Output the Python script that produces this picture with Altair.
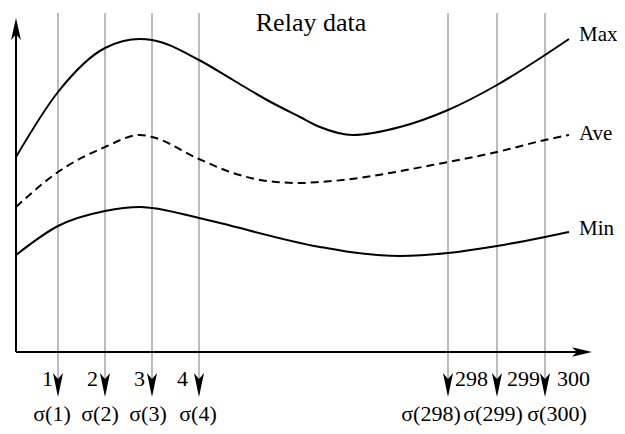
import altair as alt
import pandas as pd

# ---- data (horizontal position, vertical value; origin at the axes corner) ----
title_text = "Relay data"

max_x = [0, 42, 89, 124, 136, 183, 217, 251, 284, 304, 337, 384, 432, 481, 529, 553]
max_y = [195, 260, 304, 313, 312, 292, 272, 252, 235, 225, 217, 225, 242, 267, 297, 313]

ave_x = [0, 42, 89, 124, 136, 183, 217, 251, 284, 304, 432, 481, 529, 553]
ave_y = [145, 180, 205, 217, 215, 193, 179, 171, 169, 170, 190, 200, 212, 217]

min_x = [0, 42, 89, 124, 136, 183, 304, 334, 384, 432, 481, 529, 553]
min_y = [97, 126, 141, 145, 144, 134, 105, 100, 96, 99, 106, 115, 120]

series_names = ["Max", "Ave", "Min"]
series_label_y = [311, 212, 117]
series_label_x = 563

marker_x = [42, 89, 136, 183, 432, 481, 529]
marker_num = ["1", "2", "3", "4", "298", "299", "300"]
num_label_x = [37, 82, 129, 172, 439, 491, 541]
sigma_label_x = [36, 84, 132, 182, 415, 477, 541]
sigma_labels = ["σ(" + n + ")" for n in marker_num]

marker_top = 339
marker_bottom = -33
num_label_y = -34
sigma_label_y = -69

axis_x_end = 572
axis_y_end = 318

FONT = "Liberation Serif"

xs = alt.Scale(domain=[-8, 601], nice=False, zero=False)
ys = alt.Scale(domain=[-74, 344], nice=False, zero=False)


def X(f="x"):
    return alt.X(f + ":Q", scale=xs, axis=None)


def Y(f="y"):
    return alt.Y(f + ":Q", scale=ys, axis=None)


markers = pd.DataFrame({"x": marker_x, "top": [marker_top] * 7, "bot": [marker_bottom] * 7})

vlines = alt.Chart(markers).mark_rule(color="#7a7a7a", strokeWidth=1).encode(
    x=X(), y=Y("top"), y2="bot:Q"
)

down_arrow = "M0,1 L-0.42,-1 L0,-0.5 L0.42,-1 Z"
vheads = alt.Chart(markers).mark_point(
    shape=down_arrow, size=576, filled=True, color="black", opacity=1, strokeWidth=0
).encode(x=X(), y=Y("bot"))

df_max = pd.DataFrame({"x": max_x, "y": max_y})
df_ave = pd.DataFrame({"x": ave_x, "y": ave_y})
df_min = pd.DataFrame({"x": min_x, "y": min_y})

l_max = alt.Chart(df_max).mark_line(color="black", strokeWidth=2, interpolate="monotone").encode(x=X(), y=Y())
l_ave = alt.Chart(df_ave).mark_line(
    color="black", strokeWidth=2, interpolate="monotone", strokeDash=[8, 5]
).encode(x=X(), y=Y())
l_min = alt.Chart(df_min).mark_line(color="black", strokeWidth=2, interpolate="monotone").encode(x=X(), y=Y())

# axes
xaxis = alt.Chart(pd.DataFrame({"x": [0], "x2": [axis_x_end], "y": [0]})).mark_rule(
    color="black", strokeWidth=2
).encode(x=X(), x2="x2:Q", y=Y())
yaxis = alt.Chart(pd.DataFrame({"x": [0], "y": [0], "y2": [axis_y_end]})).mark_rule(
    color="black", strokeWidth=2
).encode(x=X(), y=Y(), y2="y2:Q")

right_arrow = "M1,0 L-1,-0.48 L-0.5,0 L-1,0.48 Z"
up_arrow = "M0,-1 L-0.45,1 L0,0.5 L0.45,1 Z"
xhead = alt.Chart(pd.DataFrame({"x": [566], "y": [0]})).mark_point(
    shape=right_arrow, size=400, filled=True, color="black", opacity=1, strokeWidth=0
).encode(x=X(), y=Y())
yhead = alt.Chart(pd.DataFrame({"x": [0], "y": [323]})).mark_point(
    shape=up_arrow, size=484, filled=True, color="black", opacity=1, strokeWidth=0
).encode(x=X(), y=Y())

# texts
title = alt.Chart(pd.DataFrame({"x": [295], "y": [321], "t": [title_text]})).mark_text(
    font=FONT, fontSize=26, align="center", baseline="alphabetic", color="black"
).encode(x=X(), y=Y(), text="t:N")

series_lab = alt.Chart(
    pd.DataFrame({"x": [series_label_x] * 3, "y": series_label_y, "t": series_names})
).mark_text(font=FONT, fontSize=21, align="left", baseline="alphabetic", color="black").encode(
    x=X(), y=Y(), text="t:N"
)

nums_left = alt.Chart(
    pd.DataFrame({"x": num_label_x[:4], "y": [num_label_y] * 4, "t": marker_num[:4]})
).mark_text(font=FONT, fontSize=22, align="right", baseline="alphabetic", color="black").encode(
    x=X(), y=Y(), text="t:N"
)
nums_right = alt.Chart(
    pd.DataFrame({"x": num_label_x[4:], "y": [num_label_y] * 3, "t": marker_num[4:]})
).mark_text(font=FONT, fontSize=22, align="left", baseline="alphabetic", color="black").encode(
    x=X(), y=Y(), text="t:N"
)
sigmas = alt.Chart(
    pd.DataFrame({"x": sigma_label_x, "y": [sigma_label_y] * 7, "t": sigma_labels})
).mark_text(font=FONT, fontSize=22, align="center", baseline="alphabetic", color="black").encode(
    x=X(), y=Y(), text="t:N"
)

chart = alt.layer(
    vlines, l_max, l_ave, l_min, xaxis, yaxis, vheads, xhead, yhead,
    title, series_lab, nums_left, nums_right, sigmas
).properties(
    width=609, height=418, autosize=alt.AutoSizeParams(type="none"), padding=0, background="white"
).configure_view(stroke=None)

chart.save("out.html", embed_options={"renderer": "svg", "actions": False})
